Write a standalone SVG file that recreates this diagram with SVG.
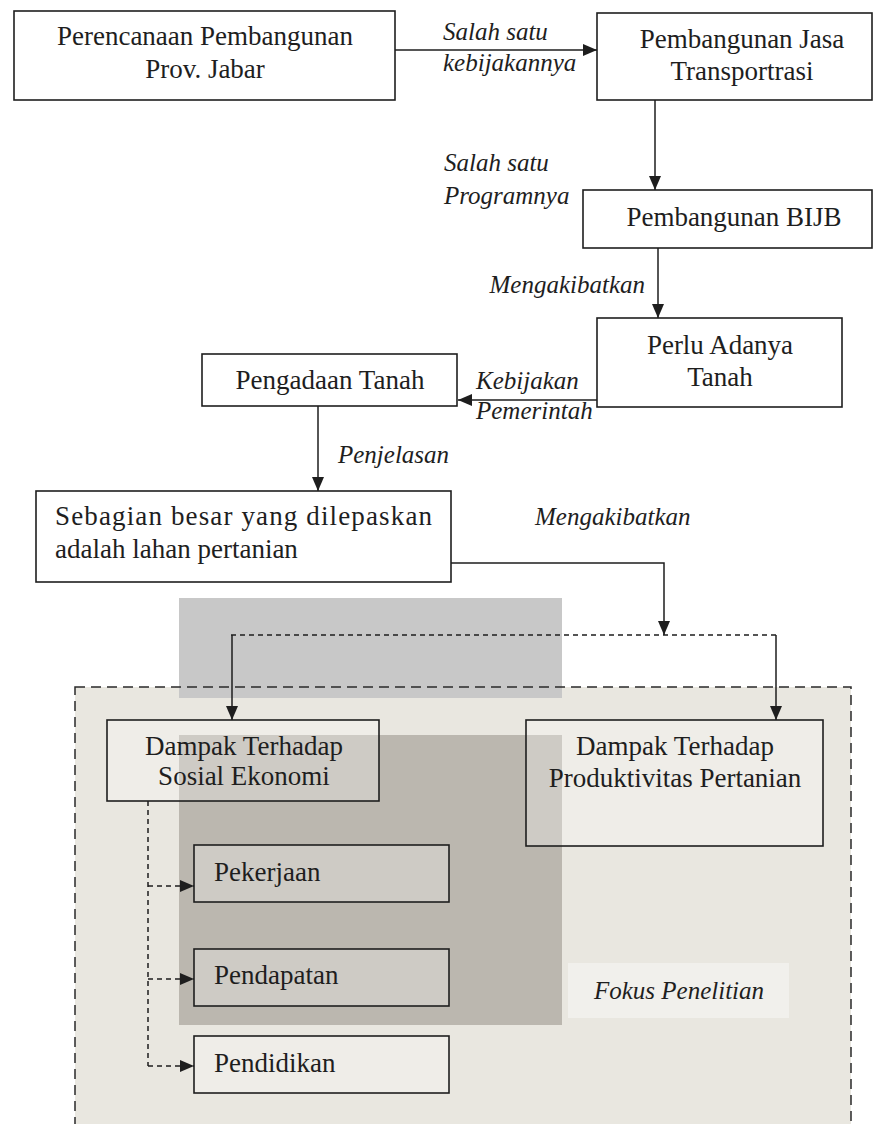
<svg xmlns="http://www.w3.org/2000/svg" width="875" height="1124" viewBox="0 0 875 1124">
<style>
.t{font-family:"Liberation Serif","Times New Roman",serif;font-size:27px;fill:#1e1e1e}
.i{font-family:"Liberation Serif","Times New Roman",serif;font-size:25px;font-style:italic;fill:#1e1e1e}
.box{fill:#ffffff;stroke:#1e1e1e;stroke-width:1.6}
.tbox{fill:#ffffff;fill-opacity:0.28;stroke:#1e1e1e;stroke-width:1.6}
.c{fill:none;stroke:#1e1e1e;stroke-width:1.5}
.d{fill:none;stroke:#1e1e1e;stroke-width:1.5;stroke-dasharray:5 4}
</style>
<defs>
<marker id="ah" markerWidth="14" markerHeight="12" refX="14" refY="6" orient="auto" markerUnits="userSpaceOnUse">
<path d="M0,0 L14,6 L0,12 Z" fill="#1e1e1e"/>
</marker>
</defs>
<rect width="875" height="1124" fill="#ffffff"/>
<g id="background">
<rect x="75" y="687" width="776" height="460" fill="#e9e7e0"/>
<rect x="179" y="598" width="383" height="100" fill="#c8c8c8"/>
<rect x="179" y="735" width="383" height="290" fill="#bbb7af"/>
<rect x="568" y="963" width="221" height="55" fill="#f1f0ec"/>
<rect x="75" y="687" width="776" height="460" fill="none" stroke="#2a2a2a" stroke-width="1.5" stroke-dasharray="10 6"/>
</g>
<g id="connectors">
<line class="c" x1="395" y1="50" x2="597" y2="50" marker-end="url(#ah)"/>
<line class="c" x1="655" y1="100" x2="655" y2="190" marker-end="url(#ah)"/>
<line class="c" x1="658" y1="248" x2="658" y2="318" marker-end="url(#ah)"/>
<line class="c" x1="597" y1="400" x2="458" y2="400" marker-end="url(#ah)"/>
<line class="c" x1="318" y1="406" x2="318" y2="491" marker-end="url(#ah)"/>
<polyline class="c" points="451,563 664,563 664,635" marker-end="url(#ah)"/>
<line class="d" x1="231" y1="635" x2="776" y2="635"/>
<line class="c" x1="232" y1="635" x2="232" y2="720" marker-end="url(#ah)"/>
<line class="c" x1="776" y1="635" x2="776" y2="720" marker-end="url(#ah)"/>
<polyline class="d" points="148,801 148,1066"/>
<polyline class="d" points="148,886 194,886" marker-end="url(#ah)"/>
<polyline class="d" points="148,979 194,979" marker-end="url(#ah)"/>
<polyline class="d" points="148,1066 194,1066" marker-end="url(#ah)"/>
<text class="i" x="443" y="40">Salah satu</text>
<text class="i" x="443" y="71">kebijakannya</text>
<text class="i" x="444" y="171">Salah satu</text>
<text class="i" x="444" y="204">Programnya</text>
<text class="i" x="645" y="293" text-anchor="end">Mengakibatkan</text>
<text class="i" x="476" y="389">Kebijakan</text>
<text class="i" x="476" y="419">Pemerintah</text>
<text class="i" x="338" y="463">Penjelasan</text>
<text class="i" x="535" y="525">Mengakibatkan</text>
</g>
<g id="n1">
<rect class="box" x="14" y="11" width="381" height="89" stroke-width="2"/>
<text class="t" x="205" y="45" text-anchor="middle">Perencanaan Pembangunan</text>
<text class="t" x="205" y="78" text-anchor="middle">Prov. Jabar</text>
</g>
<g id="n2">
<rect class="box" x="597" y="13" width="275" height="87" stroke-width="2"/>
<text class="t" x="742" y="48" text-anchor="middle">Pembangunan Jasa</text>
<text class="t" x="742" y="80" text-anchor="middle">Transportrasi</text>
</g>
<g id="n3">
<rect class="box" x="583" y="190" width="289" height="58"/>
<text class="t" x="734" y="226" text-anchor="middle">Pembangunan BIJB</text>
</g>
<g id="n4">
<rect class="box" x="597" y="318" width="245" height="89"/>
<text class="t" x="720" y="354" text-anchor="middle">Perlu Adanya</text>
<text class="t" x="720" y="386" text-anchor="middle">Tanah</text>
</g>
<g id="n5">
<rect class="box" x="202" y="354" width="255" height="52"/>
<text class="t" x="330" y="389" text-anchor="middle">Pengadaan Tanah</text>
</g>
<g id="n6">
<rect class="box" x="36" y="491" width="415" height="91"/>
<text class="t" x="55" y="525" textLength="377" lengthAdjust="spacing">Sebagian besar yang dilepaskan</text>
<text class="t" x="55" y="558">adalah lahan pertanian</text>
</g>
<g id="n7">
<rect class="tbox" x="107" y="720" width="272" height="81"/>
<text class="t" x="244" y="755" text-anchor="middle">Dampak Terhadap</text>
<text class="t" x="244" y="785" text-anchor="middle">Sosial Ekonomi</text>
</g>
<g id="n8">
<rect class="tbox" x="526" y="720" width="297" height="126" fill-opacity="0.6"/>
<text class="t" x="675" y="755" text-anchor="middle">Dampak Terhadap</text>
<text class="t" x="675" y="787" text-anchor="middle">Produktivitas Pertanian</text>
</g>
<g id="n9">
<rect class="tbox" x="194" y="845" width="255" height="57"/>
<text class="t" x="214" y="881">Pekerjaan</text>
</g>
<g id="n10">
<rect class="tbox" x="194" y="949" width="255" height="57"/>
<text class="t" x="214" y="984">Pendapatan</text>
</g>
<g id="n11">
<rect class="tbox" x="194" y="1036" width="255" height="57" fill-opacity="0.5"/>
<text class="t" x="214" y="1072">Pendidikan</text>
</g>
<g id="n12">
<text class="i" x="679" y="999" text-anchor="middle">Fokus Penelitian</text>
</g>
</svg>
